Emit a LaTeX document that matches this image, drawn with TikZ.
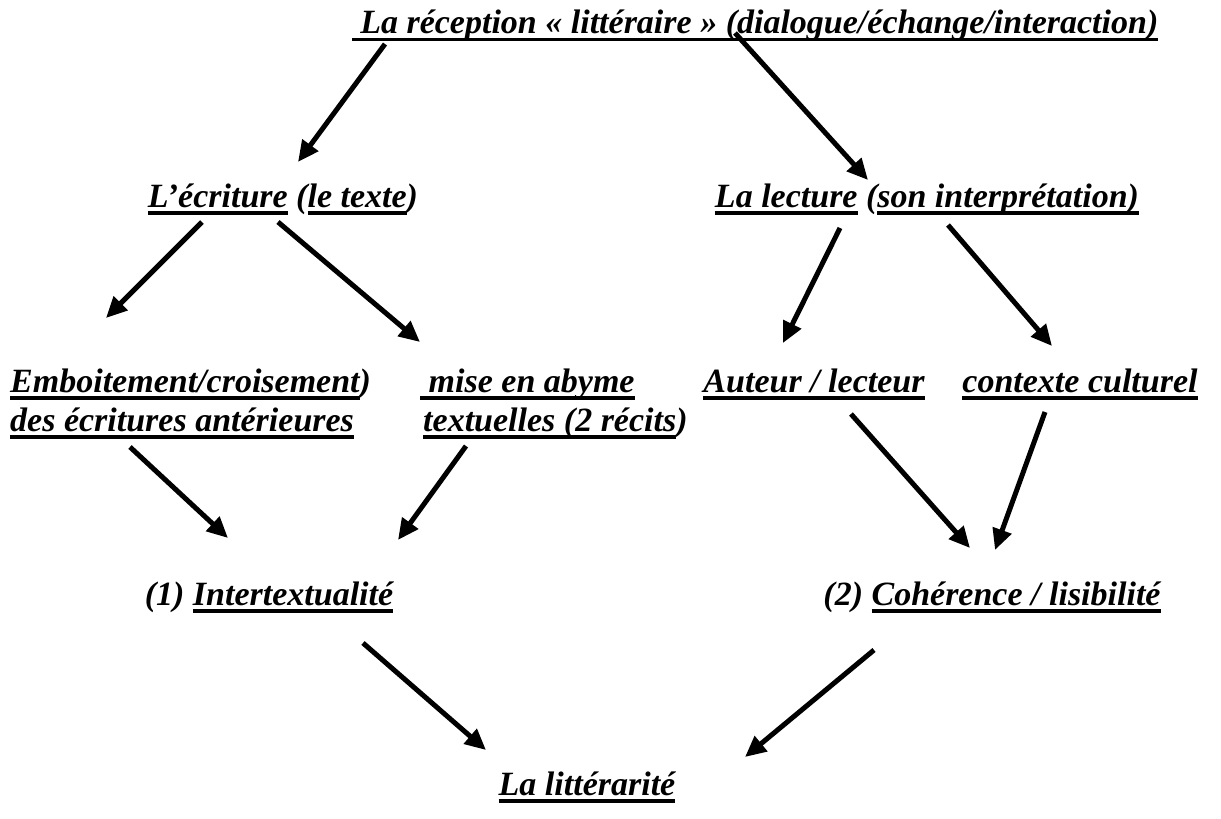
\documentclass[tikz,border=0pt]{standalone}
\usepackage{fontspec}
\setmainfont{Liberation Serif}
\usetikzlibrary{arrows.meta}
% thick underline under a piece of text
\newcommand\ulbox[1]{\setbox0\hbox{#1}\rlap{\rule[-7.5pt]{\wd0}{3.8pt}}\box0\relax}
\tikzset{
  lbl/.style={inner sep=0pt, anchor=base, font=\fontsize{34}{38}\selectfont\bfseries\itshape},
  lblw/.style={lbl, anchor=base west},
  arr/.style={line width=5pt, -{Triangle[length=21pt,width=19pt]}, shorten >=0pt}
}
\begin{document}
\begin{tikzpicture}[x=1pt,y=-1pt]
\useasboundingbox (0,0) rectangle (1221,819);
\node[lbl] (top) at (755,34) {\ulbox{ La réception « littéraire » (dialogue/échange/interaction)}};
\node[lbl] (ecr) at (283,207) {\ulbox{L’écriture} (\ulbox{le texte})};
\node[lbl] (lec) at (927,207) {\ulbox{La lecture} (\ulbox{son interprétation)}};
\node[lblw] (emb) at (10,392) {\ulbox{Emboitement/croisement})};
\node[lblw] (mise) at (420,392) {\ulbox{ mise en abyme}};
\node[lblw] (des) at (10,431) {\ulbox{des écritures antérieures}};
\node[lblw] (txt) at (423,431) {\ulbox{textuelles (2 récits})};
\node[lbl] (aut) at (814,392) {\ulbox{Auteur / lecteur}};
\node[lbl] (ctx) at (1080,392) {\ulbox{contexte culturel}};
\node[lbl] (inter) at (269,605) {(1) \ulbox{Intertextualité}};
\node[lbl] (coh) at (992,605) {(2) \ulbox{Cohérence / lisibilité}};
\node[lbl] (litt) at (587,795) {\ulbox{La littérarité}};
% arrow end points
\coordinate (a1s) at (385,44);  \coordinate (a1e) at (298,162);
\coordinate (a2s) at (735,33);  \coordinate (a2e) at (868,180);
\coordinate (a3s) at (202,222); \coordinate (a3e) at (106,318);
\coordinate (a4s) at (278,222); \coordinate (a4e) at (420,342);
\coordinate (a5s) at (840,228); \coordinate (a5e) at (783,343);
\coordinate (a6s) at (948,225); \coordinate (a6e) at (1052,346);
\coordinate (a7s) at (130,447); \coordinate (a7e) at (228,538);
\coordinate (a8s) at (466,446); \coordinate (a8e) at (398,540);
\coordinate (a9s) at (851,414); \coordinate (a9e) at (970,548);
\coordinate (a10s) at (1045,412); \coordinate (a10e) at (995,550);
\coordinate (a11s) at (363,643); \coordinate (a11e) at (486,750);
\coordinate (a12s) at (874,650); \coordinate (a12e) at (745,757);
\foreach \i in {1,...,12} \draw[arr] (a\i s) -- (a\i e);
\end{tikzpicture}
\end{document}
